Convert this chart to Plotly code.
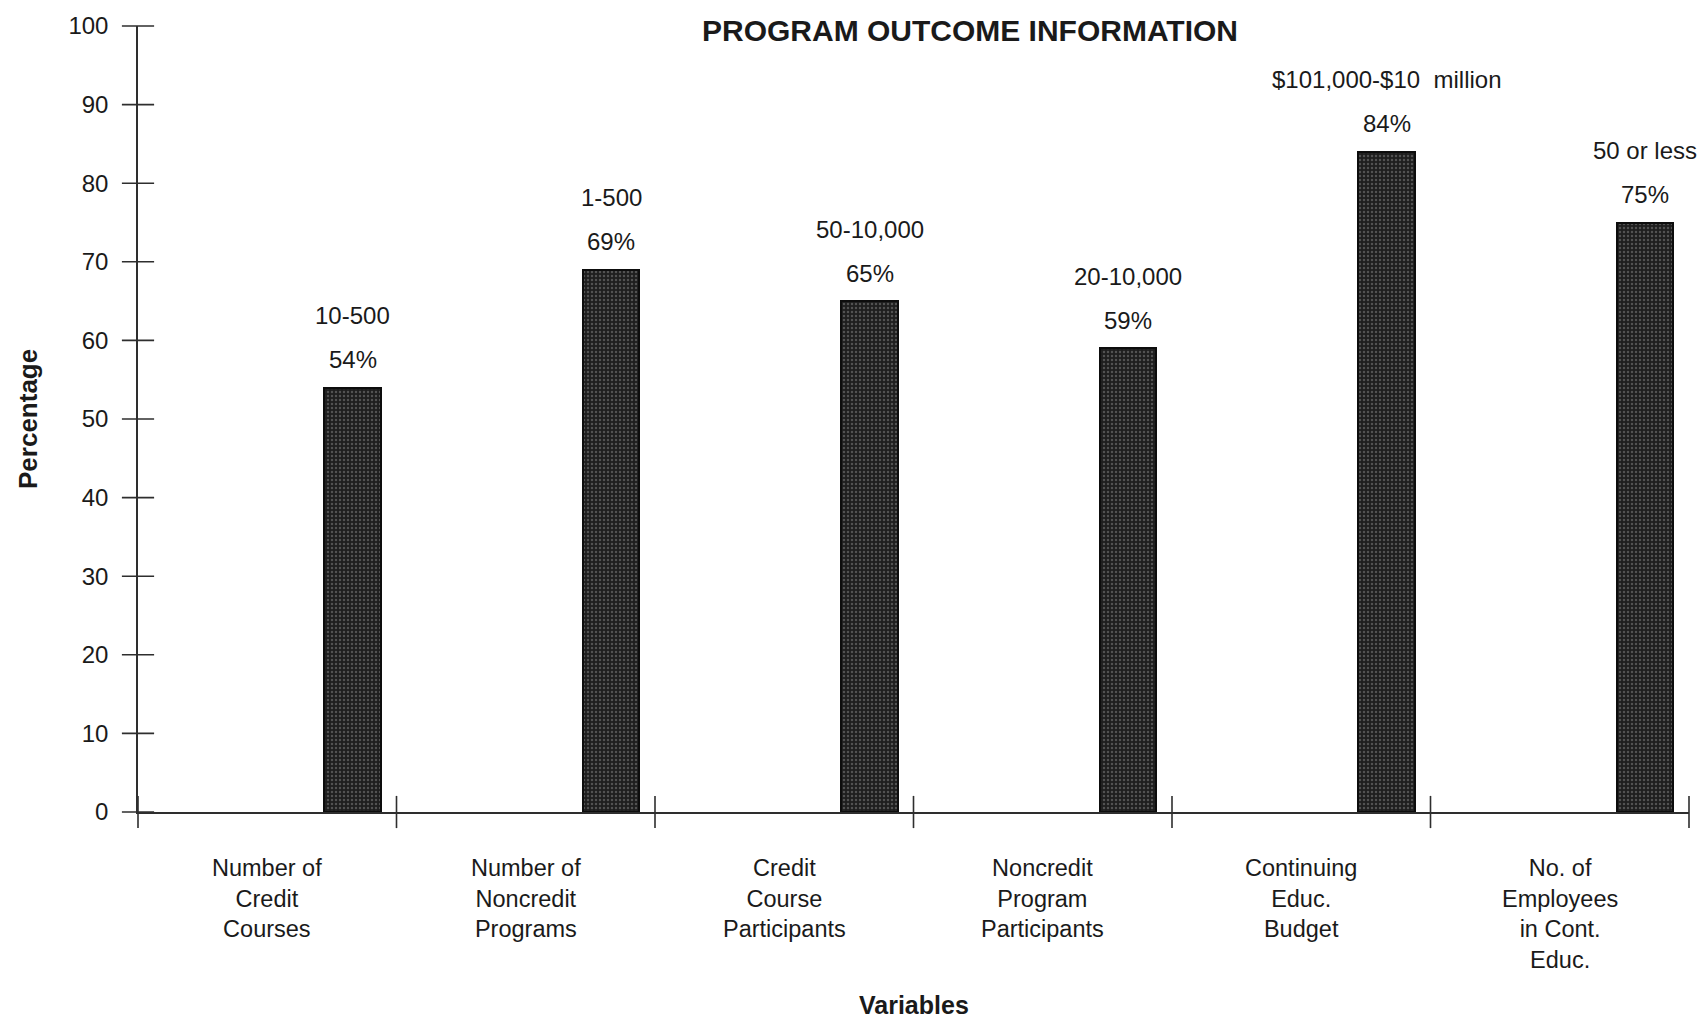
import plotly.graph_objects as go

# ---------------- data ----------------
categories = [
    "Number of<br>Credit<br>Courses",
    "Number of<br>Noncredit<br>Programs",
    "Credit<br>Course<br>Participants",
    "Noncredit<br>Program<br>Participants",
    "Continuing<br>Educ.<br>Budget",
    "No. of<br>Employees<br>in Cont.<br>Educ.",
]
values = [54, 69, 65, 59, 84, 75]
value_labels = ["54%", "69%", "65%", "59%", "84%", "75%"]
range_labels = ["10-500", "1-500", "50-10,000", "20-10,000",
                "$101,000-$10\u00a0 million", "50 or less"]
y_ticks = [0, 10, 20, 30, 40, 50, 60, 70, 80, 90, 100]

# ---------------- style ----------------
FONT = "Liberation Sans, Arial, Helvetica, sans-serif"
TXT = "#1a1a1a"
AX = "#2e2e2e"
BAR_OFFSET = 0.83   # bar centre inside each category slot
BAR_WIDTH = 0.22

n = len(categories)
slot_edges = list(range(n + 1))
bar_x = [i + BAR_OFFSET for i in range(n)]
label_x = [i + 0.5 for i in range(n)]

fig = go.Figure()
fig.add_trace(go.Bar(
    x=bar_x, y=values, width=BAR_WIDTH,
    marker=dict(
        color="#1e1e1e",
        line=dict(color="#0d0d0d", width=2),
        pattern=dict(shape=".", fgcolor="#858585", bgcolor="#1e1e1e",
                     size=4, solidity=0.3),
    ),
    hoverinfo="skip", showlegend=False,
))

# crossing tick marks (they straddle the axis lines, as in the original)
fig.add_trace(go.Scatter(
    x=slot_edges, y=[0] * len(slot_edges), mode="markers",
    marker=dict(symbol="line-ns", size=23, color=AX,
                line=dict(color=AX, width=1.6)),
    cliponaxis=False, showlegend=False, hoverinfo="skip",
))
fig.add_trace(go.Scatter(
    x=[0] * len(y_ticks), y=y_ticks, mode="markers",
    marker=dict(symbol="line-ew", size=23, color=AX,
                line=dict(color=AX, width=1.6)),
    cliponaxis=False, showlegend=False, hoverinfo="skip",
))

annotations = []
for x, v, pl, rl in zip(bar_x, values, value_labels, range_labels):
    annotations.append(dict(x=x, y=v, xref="x", yref="y", text=pl,
                            showarrow=False, yanchor="middle", yshift=28,
                            font=dict(family=FONT, size=24, color=TXT)))
    annotations.append(dict(x=x, y=v, xref="x", yref="y", text=rl,
                            showarrow=False, yanchor="middle", yshift=72,
                            font=dict(family=FONT, size=24, color=TXT)))
for x, c in zip(label_x, categories):
    annotations.append(dict(x=x, y=0, xref="x", yref="y", text=c,
                            showarrow=False, yanchor="top", yshift=-41,
                            align="center",
                            font=dict(family=FONT, size=23.5, color=TXT)))
annotations.append(dict(x=0.5, y=0, xref="paper", yref="paper",
                        text="<b>Variables</b>", showarrow=False,
                        yanchor="middle", yshift=-193,
                        font=dict(family=FONT, size=25, color=TXT)))
annotations.append(dict(x=0, y=0.5, xref="paper", yref="paper",
                        text="<b>Percentage</b>", showarrow=False,
                        textangle=-90, xanchor="center", xshift=-110,
                        font=dict(family=FONT, size=26, color=TXT)))

fig.update_layout(
    width=1707, height=1021,
    margin=dict(l=138, r=18, t=24, b=209),
    paper_bgcolor="white", plot_bgcolor="white",
    bargap=0,
    title=dict(text="<b>PROGRAM OUTCOME INFORMATION</b>",
               x=970 / 1707, xref="container", xanchor="center",
               y=1 - 30 / 1021, yref="container", yanchor="middle",
               font=dict(family=FONT, size=30, color=TXT)),
    xaxis=dict(range=[0, n], tickmode="array", tickvals=slot_edges,
               showticklabels=False, ticks="", showgrid=False,
               zeroline=False, showline=True, linecolor=AX, linewidth=1.5,
               fixedrange=True),
    yaxis=dict(range=[0, 100], tickmode="array", tickvals=y_ticks,
               ticks="outside", ticklen=11, tickcolor="rgba(0,0,0,0)",
               showgrid=False, zeroline=False, showline=True,
               linecolor=AX, linewidth=1.5, ticklabelstandoff=12,
               tickfont=dict(family=FONT, size=24, color=TXT),
               fixedrange=True),
    annotations=annotations,
)

fig.write_html("out.html")
